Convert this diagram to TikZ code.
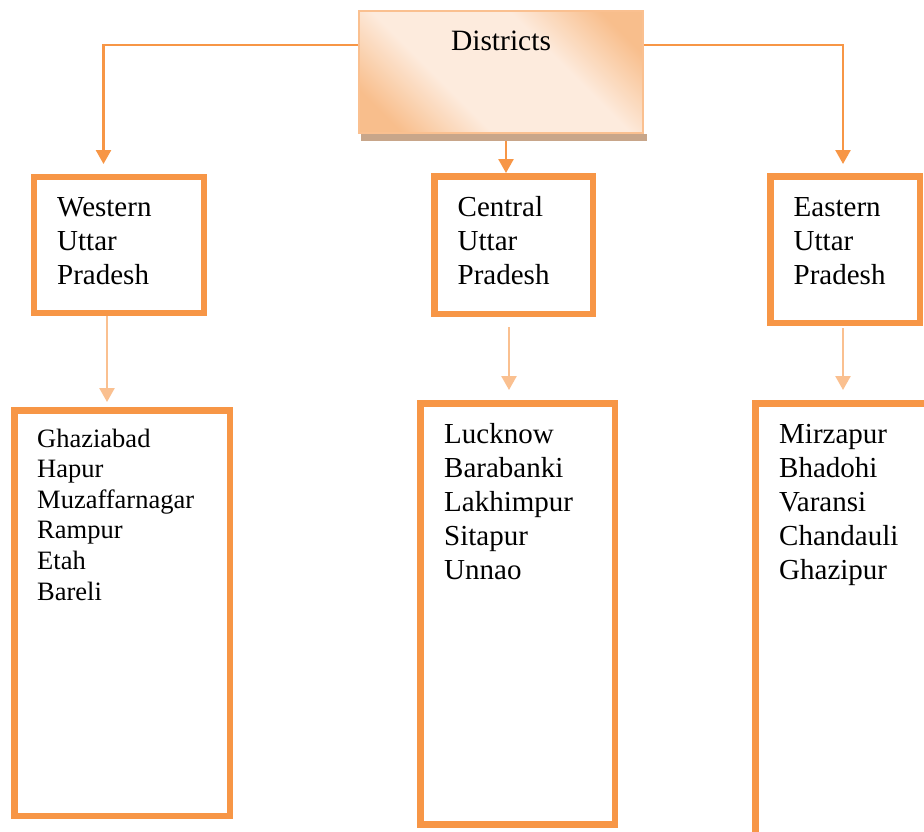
\documentclass[tikz,border=0pt]{standalone}
\usepackage{fontspec}
\setmainfont{Liberation Serif}
\usetikzlibrary{arrows.meta,calc}
\definecolor{orD}{HTML}{F79646}
\definecolor{orL}{HTML}{FAC090}
\definecolor{peach}{HTML}{FDEBDD}
\definecolor{peachD}{HTML}{F8BE8C}
\definecolor{shad}{RGB}{200,166,138}
\pgfdeclareverticalshading{distshade}{100bp}{color(0bp)=(peachD); color(22bp)=(peachD); color(38bp)=(peach); color(62bp)=(peach); color(78bp)=(peachD); color(100bp)=(peachD)}
\begin{document}
\begin{tikzpicture}[x=1pt,y=-1pt,
  box/.style={draw=orD, line width=6.5pt, inner sep=0pt, fill=white},
  lab/.style={anchor=base west, inner sep=0pt, align=left, font=\fontsize{29}{34.2}\selectfont},
  labs/.style={anchor=base west, inner sep=0pt, align=left, font=\fontsize{26.5}{30.6}\selectfont},
  arr/.style={draw=orD, line width=2.5pt, -{Triangle[width=15pt,length=14pt]}},
  arrL/.style={draw=orL, line width=2.5pt, -{Triangle[width=15pt,length=14pt]}}]
\clip (0,0) rectangle (924,831);
\fill[white] (0,0) rectangle (924,831);
% title box with shadow
\fill[shad] (361,134) rectangle (647,140.5);
\node[draw=orL, line width=2pt, inner sep=0pt, minimum width=284pt, minimum height=122pt,
      shading=distshade, shading angle=-45] (dist) at (501,72) {};
\node[anchor=base, inner sep=0pt, font=\fontsize{29.5}{34}\selectfont] (distt) at (501,50) {Districts};
% region boxes
\node[box, minimum width=170pt, minimum height=136pt] (west) at (119,245) {};
\node[box, minimum width=158.5pt, minimum height=137.5pt] (cent) at (513.5,245) {};
\node[box, minimum width=149.5pt, minimum height=146.5pt] (east) at (845,249.5) {};
% (base anchor of a multi-line node = baseline of its last line)
\node[lab] (westt) at (57,284.4) {Western\\Uttar\\Pradesh};
\node[lab] (centt) at (457.5,284.4) {Central\\Uttar\\Pradesh};
\node[lab] (eastt) at (793.5,284.4) {Eastern\\Uttar\\Pradesh};
% district boxes
\node[box, minimum width=215.5pt, minimum height=405.5pt] (wl) at (122,613) {};
\node[box, minimum width=194.5pt, minimum height=421pt] (cl) at (517.5,614) {};
\node[box, minimum width=230pt, minimum height=500pt] (el) at (870.25,653.25) {};
\node[labs] (wlt) at (37,600) {Ghaziabad\\Hapur\\Muzaffarnagar\\Rampur\\Etah\\Bareli};
\node[lab] (clt) at (444,579.8) {Lucknow\\Barabanki\\Lakhimpur\\Sitapur\\Unnao};
\node[lab] (elt) at (779,579.8) {Mirzapur\\Bhadohi\\Varansi\\Chandauli\\Ghazipur};
% connectors
\coordinate (lbend) at (103.5,45);
\coordinate (rbend) at (843,45);
\coordinate (wtip) at (103.5,164);
\coordinate (etip) at (843,164);
\draw[arr] (lbend -| dist.west) -- (lbend) -- (wtip);
\draw[arr] (rbend -| dist.east) -- (rbend) -- (etip);
\coordinate (ctop) at (506,141);
\draw[arr] (ctop) -- (ctop |- cent.north);
\coordinate (w2) at (107,316);
\coordinate (w2tip) at (107,402);
\draw[arrL] (w2) -- (w2tip);
\coordinate (c2) at (509,327);
\coordinate (c2tip) at (509,390);
\draw[arrL] (c2) -- (c2tip);
\coordinate (e2) at (843,328);
\coordinate (e2tip) at (843,390);
\draw[arrL] (e2) -- (e2tip);
\end{tikzpicture}
\end{document}
